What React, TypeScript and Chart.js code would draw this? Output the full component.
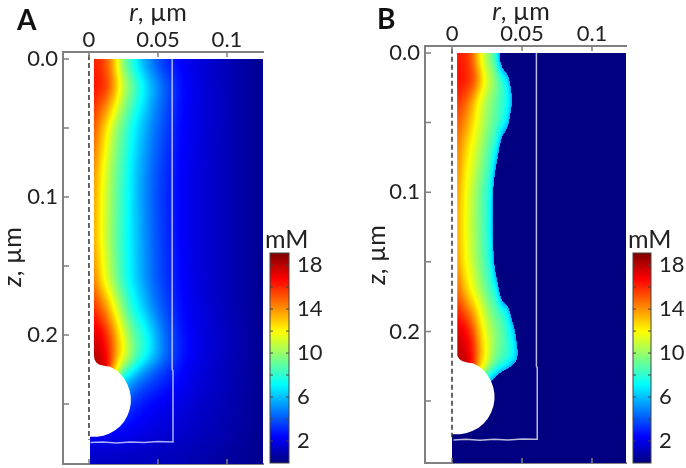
import React, { useEffect, useRef } from "react";
import { Chart, registerables } from "chart.js";
Chart.register(...registerables);

const FONT = "Lato, 'Open Sans', sans-serif";
const AXIS = "#808080";
const R_TICKS = [0, 0.05, 0.1];
const Z_TICKS = [0, 0.05, 0.1, 0.15, 0.2, 0.25];
const R_LABELS: Record<string, string> = { "0": "0", "0.05": "0.05", "0.1": "0.1" };
const Z_LABELS: Record<string, string> = { "0": "0.0", "0.1": "0.1", "0.2": "0.2" };
const BAR_TICKS = [2, 4, 6, 8, 10, 12, 14, 16, 18];
const BAR_LABELS = [2, 6, 10, 14, 18];
const BAR_LEVELS = [0, 2, 4, 6, 8, 10, 12, 14, 16, 18, 19.1];
const BAR_COLS = [0, 1];

const JET: number[][] = [
  [0, 0, 0, 128],
  [0.125, 0, 0, 255],
  [0.375, 0, 255, 255],
  [0.625, 255, 255, 0],
  [0.875, 255, 0, 0],
  [1, 128, 0, 0],
];
const VMAX = 19.1;

const A_COLS = [0.0007, 0.004, 0.008, 0.012, 0.016, 0.02, 0.025, 0.03, 0.035, 0.04, 0.046, 0.054, 0.066, 0.08, 0.102, 0.126];
const A_ROWS = [0, 0.02, 0.05, 0.08, 0.1, 0.13, 0.16, 0.18, 0.2, 0.215, 0.222, 0.23, 0.24, 0.25, 0.27, 0.295];
const A_VALUES = [
  [16, 16, 15.8, 15, 13.8, 11.9, 9.3, 7.8, 6.4, 5.3, 4.3, 3.2, 2.3, 1.7, 1, 0.3],
  [16.4, 16.4, 16.2, 15.8, 14.8, 13.2, 11, 9.6, 8.3, 7.1, 5.8, 4.4, 2.7, 1.8, 1, 0.3],
  [15, 15, 13.8, 12.6, 11.2, 9.9, 8.8, 7.6, 6.6, 5.8, 4.8, 3.8, 2.5, 1.8, 1, 0.3],
  [14, 14, 12.6, 11.4, 10.2, 9.2, 8.1, 7, 6, 5.2, 4.3, 3.4, 2.4, 1.7, 1, 0.3],
  [13.6, 13.6, 12.3, 11.1, 10, 9, 7.9, 6.9, 5.9, 5.1, 4.2, 3.3, 2.4, 1.7, 1, 0.3],
  [13.4, 13.4, 12.2, 11, 9.9, 8.9, 7.8, 6.9, 6, 5.2, 4.3, 3.4, 2.4, 1.7, 1, 0.3],
  [14.2, 14.2, 12.8, 11.6, 10.4, 9.3, 8, 7, 6.1, 5.3, 4.4, 3.5, 2.5, 1.7, 1, 0.3],
  [15.8, 15.8, 15, 14, 12.7, 11.2, 9.5, 8, 7, 6.1, 5, 3.9, 2.6, 1.8, 1, 0.3],
  [17.4, 17.4, 17, 16.2, 15, 13.4, 11.5, 9.8, 8.6, 7.7, 6.4, 4.6, 2.9, 1.9, 1.1, 0.3],
  [18, 18, 17.6, 16.8, 15.5, 13.8, 12, 10.2, 8.7, 7.8, 6.4, 4.7, 2.9, 1.9, 1.1, 0.3],
  [18.2, 18.2, 18, 17.5, 15.2, 12.5, 10.2, 8.8, 7.3, 6, 5, 3.9, 2.7, 1.8, 1, 0.3],
  [18, 18, 17.5, 16, 14, 11, 7.4, 6.2, 5.3, 4.6, 3.9, 3.2, 2.4, 1.7, 1, 0.3],
  [8, 8, 8, 8, 7, 6, 5, 4.6, 3.9, 3.5, 3.1, 2.7, 2.2, 1.6, 1, 0.3],
  [5, 5, 5, 5, 5, 5, 4, 3.4, 3, 2.7, 2.4, 2.1, 1.8, 1.4, 0.9, 0.3],
  [2.3, 2.3, 2.3, 2.3, 2.2, 2.2, 2.2, 2.1, 2, 1.9, 1.8, 1.6, 1.5, 1.2, 0.8, 0.3],
  [1, 1, 1, 1, 1, 1, 1, 1, 1, 1, 1, 0.9, 0.9, 0.7, 0.5, 0.2],
];

const B_COLS = [0, 0.004, 0.008, 0.012, 0.016, 0.02, 0.024, 0.028, 0.032, 0.036, 0.04, 0.044, 0.048, 0.052, 0.06, 0.125];
const B_ROWS = [0, 0.02, 0.035, 0.05, 0.07, 0.1, 0.125, 0.15, 0.17, 0.185, 0.2, 0.215, 0.225, 0.23, 0.235, 0.25, 0.295];
const B_VALUES = [
  [16.2, 16.2, 16, 15.5, 14, 11.8, 10.2, 8.9, 7.2, 2, 0, 0, 0, 0, 0, 0],
  [16.6, 16.6, 16.4, 16, 15.3, 13.6, 11.8, 10.6, 9.5, 8.3, 7.2, 3, 0, 0, 0, 0],
  [15.8, 15.8, 15.2, 14.4, 12.9, 11.5, 10.4, 9.6, 8.9, 8, 7.2, 5.8, 0, 0, 0, 0],
  [15, 15, 14.3, 13.4, 12.2, 11.2, 10.2, 9.3, 8.6, 7.9, 7, 2, 0, 0, 0, 0],
  [14.3, 14.3, 13.2, 12.2, 11.3, 10.3, 9.3, 8.2, 7.2, 3, 0, 0, 0, 0, 0, 0],
  [13.7, 13.7, 12.4, 11.3, 10.3, 9.2, 8.2, 7.4, 2, 0, 0, 0, 0, 0, 0, 0],
  [13.5, 13.5, 12.2, 11.2, 10.2, 9.2, 8.2, 7.3, 1.5, 0, 0, 0, 0, 0, 0, 0],
  [13.7, 13.7, 12.4, 11.4, 10.5, 9.4, 8.4, 7.5, 3.5, 0, 0, 0, 0, 0, 0, 0],
  [14.8, 14.8, 13.5, 12.3, 11.3, 10.2, 9.2, 8.2, 7.5, 2.5, 0, 0, 0, 0, 0, 0],
  [16, 16, 15.3, 14.4, 13.2, 11.8, 10.7, 9.3, 8.7, 8, 7.4, 3, 0, 0, 0, 0],
  [17.4, 17.4, 17, 16.3, 14.9, 13, 11.5, 10.5, 9.6, 8.9, 7.7, 6.9, 3, 0, 0, 0],
  [18, 18, 17.6, 17, 15.8, 13.7, 12.2, 10.6, 9.4, 8.8, 8.2, 7.4, 5.5, 0, 0, 0],
  [18.2, 18.2, 18, 17.5, 15.5, 13, 11.5, 9.8, 8.5, 7.8, 7.2, 6.6, 4.5, 0, 0, 0],
  [18.2, 18.2, 18, 17.5, 15, 12, 9, 7.5, 6.5, 6, 4.5, 0, 0, 0, 0, 0],
  [18, 18, 17.5, 16, 13, 8, 7, 6, 4, 0, 0, 0, 0, 0, 0, 0],
  [0, 0, 0, 0, 0, 0, 0, 0, 0, 0, 0, 0, 0, 0, 0, 0],
  [0, 0, 0, 0, 0, 0, 0, 0, 0, 0, 0, 0, 0, 0, 0, 0],
];

// outline of the white region, in um
const MASK_R = [-0.001, 0.0036, 0.0036, 0.004, 0.0052, 0.0072, 0.01, 0.0125, 0.0149, 0.019, 0.0226, 0.0256, 0.0279, 0.0295, 0.0303, 0.0303, 0.0295, 0.0279, 0.0256, 0.0226, 0.019, 0.0149, 0.0105, 0.0059, 0.0007, -0.001];
const MASK_Z = [-0.001, -0.001, 0.2145, 0.2175, 0.2198, 0.2213, 0.2222, 0.2226, 0.2228, 0.2251, 0.2281, 0.2317, 0.2358, 0.2402, 0.2448, 0.2494, 0.254, 0.2584, 0.2625, 0.2661, 0.2691, 0.2714, 0.273, 0.2738, 0.2738, 0.2738];
// thin outlined box
const BOX_R = [0.0603, 0.0603, 0.0609, 0.0609, 0.05, 0.04, 0.03, 0.02, 0.01, 0.001];
const BOX_Z = [0, 0.225, 0.226, 0.2775, 0.2772, 0.278, 0.2775, 0.2782, 0.2775, 0.278];
// dashed axis line
const AXIS_R = [0, 0];
const AXIS_Z = [-0.003, 0.276];

const zip = (a: number[], b: number[]) => a.map((x, i) => ({ x, y: b[i] }));

function jet(v: number): number[] {
  const t = Math.max(0, Math.min(1, v / VMAX));
  for (let i = 1; i < JET.length; i++) {
    if (t <= JET[i][0]) {
      const a = JET[i - 1], b = JET[i];
      const f = (t - a[0]) / (b[0] - a[0]);
      return [a[1] + (b[1] - a[1]) * f, a[2] + (b[2] - a[2]) * f, a[3] + (b[3] - a[3]) * f];
    }
  }
  return [128, 0, 0];
}

function locate(arr: number[], v: number): [number, number] {
  let i = 0;
  while (i < arr.length - 2 && v > arr[i + 1]) i++;
  return [i, (v - arr[i]) / (arr[i + 1] - arr[i])];
}

function smooth(src: Float32Array, w: number, h: number, dx: number, dy: number, radius: number) {
  const out = new Float32Array(src.length);
  for (let j = 0; j < h; j++) {
    for (let i = 0; i < w; i++) {
      const k = j * w + i;
      if (Number.isNaN(src[k])) { out[k] = NaN; continue; }
      let s = 0, n = 0;
      for (let d = -radius; d <= radius; d++) {
        const ii = i + d * dx, jj = j + d * dy;
        if (ii < 0 || jj < 0 || ii >= w || jj >= h) continue;
        const q = src[jj * w + ii];
        if (!Number.isNaN(q)) { s += q; n++; }
      }
      out[k] = s / n;
    }
  }
  return out;
}

function heatPlugin(cols: number[], rows: number[], values: number[][], floor: number | null, blurX: number, blurY: number) {
  return {
    id: "heat",
    beforeDatasetsDraw(chart: any) {
      const { ctx, chartArea: ca, scales } = chart;
      const w = Math.round(ca.right - ca.left), h = Math.round(ca.bottom - ca.top);
      let field = new Float32Array(w * h).fill(NaN);
      const zLo = Math.min(rows[0], rows[rows.length - 1]), zHi = Math.max(rows[0], rows[rows.length - 1]);
      for (let j = 0; j < h; j++) {
        const z = scales.y.getValueForPixel(ca.top + j + 0.5);
        if (z < zLo || z > zHi) continue;
        const [ri, rf] = locate(rows, z);
        for (let i = 0; i < w; i++) {
          const r = scales.x.getValueForPixel(ca.left + i + 0.5);
          if (r < cols[0] || r > cols[cols.length - 1] + 0.01) continue;
          const [ci, cfRaw] = locate(cols, r);
          const cf = Math.min(1, cfRaw);
          field[j * w + i] =
            values[ri][ci] * (1 - rf) * (1 - cf) + values[ri][ci + 1] * (1 - rf) * cf +
            values[ri + 1][ci] * rf * (1 - cf) + values[ri + 1][ci + 1] * rf * cf;
        }
      }
      for (let pass = 0; pass < 2; pass++) {
        if (blurY) field = smooth(field, w, h, 0, 1, blurY);
        if (blurX) field = smooth(field, w, h, 1, 0, blurX);
      }
      const off = document.createElement("canvas");
      off.width = w; off.height = h;
      const oc = off.getContext("2d")!;
      const img = oc.createImageData(w, h);
      for (let k = 0; k < field.length; k++) {
        const v = field[k];
        if (Number.isNaN(v)) continue;
        const c = floor !== null && v < floor ? [0, 0, 128] : jet(v);
        img.data[k * 4] = c[0]; img.data[k * 4 + 1] = c[1]; img.data[k * 4 + 2] = c[2]; img.data[k * 4 + 3] = 255;
      }
      oc.putImageData(img, 0, 0);
      ctx.drawImage(off, ca.left, ca.top);
    },
  };
}

const inwardTicks = {
  id: "inwardTicks",
  afterDatasetsDraw(chart: any) {
    const { ctx, chartArea: ca, scales } = chart;
    ctx.save();
    ctx.strokeStyle = AXIS;
    ctx.lineWidth = 1.5;
    ctx.beginPath();
    for (const t of scales.x.ticks) { const p = scales.x.getPixelForValue(t.value); ctx.moveTo(p, ca.top); ctx.lineTo(p, ca.top + 5); }
    for (const t of scales.x2.ticks) { const p = scales.x2.getPixelForValue(t.value); ctx.moveTo(p, ca.bottom); ctx.lineTo(p, ca.bottom - 5); }
    for (const t of scales.y.ticks) { const p = scales.y.getPixelForValue(t.value); ctx.moveTo(ca.left, p); ctx.lineTo(ca.left + 6, p); }
    ctx.stroke();
    ctx.restore();
  },
};

const barFrame = {
  id: "barFrame",
  afterDatasetsDraw(chart: any) {
    const { ctx, chartArea: ca, scales } = chart;
    ctx.save();
    ctx.strokeStyle = "#444";
    ctx.lineWidth = 1;
    ctx.strokeRect(ca.left, ca.top, ca.right - ca.left, ca.bottom - ca.top);
    ctx.beginPath();
    for (const t of scales.y.ticks) {
      const p = scales.y.getPixelForValue(t.value);
      ctx.moveTo(ca.left, p); ctx.lineTo(ca.left + 3, p);
      ctx.moveTo(ca.right, p); ctx.lineTo(ca.right - 3, p);
    }
    ctx.stroke();
    ctx.restore();
  },
};

const noPad = (s: any) => { s.paddingTop = 0; s.paddingBottom = 0; s.paddingLeft = 0; s.paddingRight = 0; };

type PanelCfg = {
  cols: number[]; rows: number[]; values: number[][]; floor: number | null;
  left: number; width: number; yWidth: number; topH: number; bottomH: number;
  xMin: number; xMax: number; zMin: number; zMax: number; boxColor: string;
};

function Panel(p: PanelCfg) {
  const ref = useRef<HTMLCanvasElement>(null);
  useEffect(() => {
    const chart = new Chart(ref.current!, {
      type: "scatter",
      data: {
        datasets: [
          { data: zip(MASK_R, MASK_Z), showLine: true, fill: "shape", backgroundColor: "#ffffff", borderColor: "rgba(255,255,255,0)", borderWidth: 0, pointRadius: 0, tension: 0, order: 3 },
          { data: zip(BOX_R, BOX_Z), showLine: true, borderColor: p.boxColor, borderWidth: 1.5, pointRadius: 0, tension: 0, order: 2 },
          { data: zip(AXIS_R, AXIS_Z), showLine: true, borderColor: "#333333", borderWidth: 1.5, borderDash: [5, 3], pointRadius: 0, tension: 0, order: 1 },
        ],
      },
      options: {
        responsive: false,
        animation: false,
        layout: { padding: { left: 0, right: 2, top: 0, bottom: 0 } },
        plugins: { legend: { display: false }, tooltip: { enabled: false } },
        scales: {
          x: {
            type: "linear", position: "top", min: p.xMin, max: p.xMax,
            afterBuildTicks: (s: any) => { s.ticks = R_TICKS.map((value) => ({ value })); },
            afterFit: (s: any) => { s.height = p.topH; noPad(s); },
            grid: { drawOnChartArea: false, drawTicks: false },
            border: { display: true, color: AXIS, width: 2 },
            ticks: { autoSkip: false, maxRotation: 0, padding: -1, color: "#222", font: { family: FONT, size: 22 }, callback: (v: any) => R_LABELS[String(v)] ?? "" },
          },
          x2: {
            type: "linear", position: "bottom", min: p.xMin, max: p.xMax,
            afterBuildTicks: (s: any) => { s.ticks = R_TICKS.map((value) => ({ value })); },
            afterFit: (s: any) => { s.height = p.bottomH; noPad(s); },
            grid: { drawOnChartArea: false, drawTicks: false },
            border: { display: true, color: AXIS, width: 2 },
            ticks: { display: false },
          },
          y: {
            type: "linear", position: "left", reverse: true, min: p.zMin, max: p.zMax,
            afterBuildTicks: (s: any) => { s.ticks = Z_TICKS.map((value) => ({ value })); },
            afterFit: (s: any) => { s.width = p.yWidth; noPad(s); },
            grid: { drawOnChartArea: false, drawTicks: false },
            border: { display: true, color: AXIS, width: 2 },
            ticks: { autoSkip: false, padding: 5, color: "#222", font: { family: FONT, size: 22 }, callback: (v: any) => Z_LABELS[String(v)] ?? "" },
          },
        },
      },
      plugins: [heatPlugin(p.cols, p.rows, p.values, p.floor, 2, 7), inwardTicks],
    } as any);
    return () => chart.destroy();
  }, []);
  return <canvas ref={ref} width={p.width} height={468} style={{ position: "absolute", left: p.left, top: 0 }} />;
}

function ColorBar({ left, barWidth }: { left: number; barWidth: number }) {
  const ref = useRef<HTMLCanvasElement>(null);
  useEffect(() => {
    const chart = new Chart(ref.current!, {
      type: "scatter",
      data: { datasets: [] },
      options: {
        responsive: false,
        animation: false,
        layout: { padding: { left: 8, right: 0, top: 253, bottom: 5 } },
        plugins: { legend: { display: false }, tooltip: { enabled: false } },
        scales: {
          x: { type: "linear", display: false, min: 0, max: 1 },
          y: {
            type: "linear", position: "right", min: 0, max: VMAX,
            afterBuildTicks: (s: any) => { s.ticks = BAR_TICKS.map((value) => ({ value })); },
            afterFit: (s: any) => { s.width = 70 - 8 - barWidth; noPad(s); },
            grid: { display: false, drawTicks: false },
            border: { display: false },
            ticks: { autoSkip: false, padding: 8, color: "#222", font: { family: FONT, size: 22 }, callback: (v: any) => (BAR_LABELS.includes(v) ? String(v) : "") },
          },
        },
      },
      plugins: [heatPlugin(BAR_COLS, BAR_LEVELS, BAR_LEVELS.map((l) => [l, l]), null, 0, 0), barFrame],
    } as any);
    return () => chart.destroy();
  }, []);
  return <canvas ref={ref} width={70} height={468} style={{ position: "absolute", left, top: 0 }} />;
}

const txt = (s: React.CSSProperties): React.CSSProperties => ({ position: "absolute", fontFamily: FONT, color: "#222", whiteSpace: "nowrap", lineHeight: 1, ...s });

function RTitle({ cx, cy }: { cx: number; cy: number }) {
  return <div style={txt({ left: cx, top: cy, fontSize: 25, transform: "translate(-50%,-50%)" })}><i>r</i>, µm</div>;
}
function ZTitle({ cx, cy }: { cx: number; cy: number }) {
  return <div style={txt({ left: cx, top: cy, fontSize: 25, transform: "translate(-50%,-50%) rotate(-90deg)" })}><i>z</i>, µm</div>;
}

export default function App() {
  useEffect(() => { document.body.style.background = "#fff"; }, []);
  return (
    <div style={{ position: "absolute", left: 0, top: 0, width: 686, height: 468, overflow: "hidden", background: "#fff" }}>
      <Panel cols={A_COLS} rows={A_ROWS} values={A_VALUES} floor={null} left={0} width={265} yWidth={63} topH={52} bottomH={4}
        xMin={-0.0188} xMax={0.1261} zMin={-0.0051} zMax={0.2935} boxColor="rgba(200,205,255,0.85)" />
      <Panel cols={B_COLS} rows={B_ROWS} values={B_VALUES} floor={5.5} left={360} width={268} yWidth={65} topH={46} bottomH={5}
        xMin={-0.0193} xMax={0.1243} zMin={-0.005} zMax={0.2945} boxColor="rgba(205,205,225,0.9)" />
      <ColorBar left={262} barWidth={19} />
      <ColorBar left={625} barWidth={18} />
      <div style={txt({ left: 17, top: 5, fontSize: 28, fontWeight: 700, color: "#111" })}>A</div>
      <div style={txt({ left: 377, top: 4, fontSize: 28, fontWeight: 700, color: "#111" })}>B</div>
      <RTitle cx={158} cy={11} />
      <RTitle cx={521} cy={10} />
      <ZTitle cx={11} cy={257} />
      <ZTitle cx={375} cy={255} />
      <div style={txt({ left: 265, top: 226, fontSize: 25 })}>mM</div>
      <div style={txt({ left: 628, top: 226, fontSize: 25 })}>mM</div>
    </div>
  );
}
